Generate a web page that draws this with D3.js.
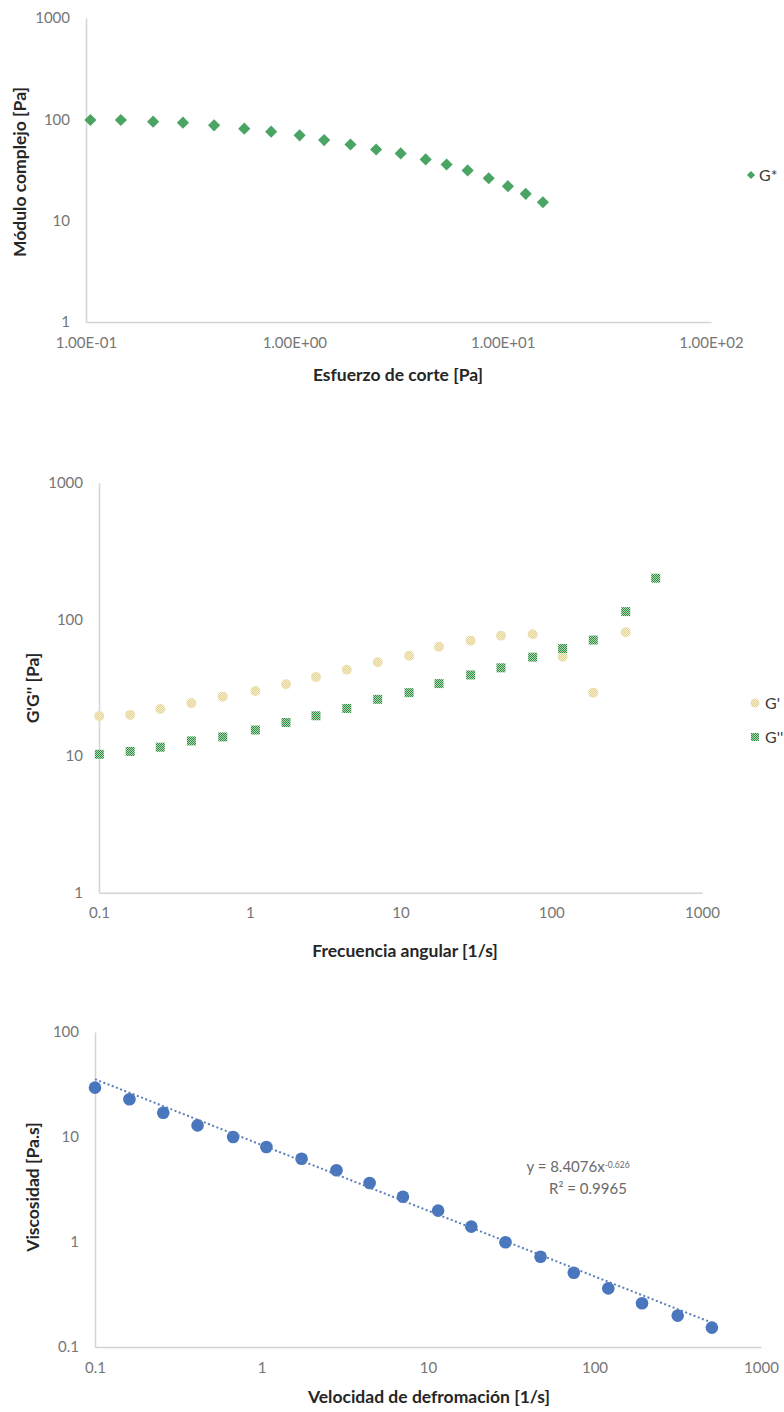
<!DOCTYPE html>
<html>
<head>
<meta charset="utf-8">
<script src="https://cdn.jsdelivr.net/npm/d3@7"></script>
<style>
  html, body { margin: 0; padding: 0; background: #fff; }
  svg { display: block; }
  .tick text { font-family: Lato, "Open Sans", sans-serif; font-size: 15px; fill: #767676; }
  .axis-title { font-family: Lato, "Open Sans", sans-serif; font-size: 17.5px; font-weight: bold; fill: #262626; }
  .legend-text { font-family: Lato, "Open Sans", sans-serif; font-size: 16px; fill: #3a3a3a; }
  .eq-text { font-family: Lato, "Open Sans", sans-serif; font-size: 15px; fill: #6a6a6a; }
</style>
</head>
<body>
<svg id="chart" width="784" height="1412"></svg>
<script>
// ---- Barrido de esfuerzo: módulo complejo ----
const stressPa = [0.105, 0.147, 0.210, 0.292, 0.412, 0.575, 0.774, 1.06, 1.39, 1.86, 2.47, 3.24, 4.27, 5.38, 6.79, 8.57, 10.6, 12.9, 15.6];
const complexModulus = [98.5, 98.5, 94.9, 92.7, 87.2, 80.9, 75.5, 69.5, 62.4, 56.5, 50.4, 46.1, 40.2, 35.8, 31.3, 26.2, 21.9, 18.4, 15.2];
const stressTicks = [0.1, 1, 10, 100];
const stressTickLabels = ["1.00E-01", "1.00E+00", "1.00E+01", "1.00E+02"];
const modulusTicks = [1, 10, 100, 1000];

// ---- Barrido de frecuencia: G' y G'' ----
const angularFreq = [0.1005, 0.161, 0.255, 0.410, 0.662, 1.09, 1.74, 2.75, 4.40, 7.06, 11.4, 18.0, 29.2, 46.4, 75.3, 119, 190, 312, 493];
const storageModulus = [19.6, 20.0, 22.1, 24.4, 27.2, 29.9, 33.5, 37.9, 42.8, 48.5, 54.2, 63.1, 69.8, 75.9, 77.8, 53.3, 29.1, 80.4, null];
const lossModulus = [10.3, 10.8, 11.6, 12.9, 13.8, 15.5, 17.6, 19.7, 22.3, 26.0, 29.1, 33.9, 39.2, 44.2, 52.9, 61.2, 70.6, 114, 200];
const freqTicks = [0.1, 1, 10, 100, 1000];
const freqTickLabels = ["0.1", "1", "10", "100", "1000"];
const gTicks = [1, 10, 100, 1000];

// ---- Curva de flujo: viscosidad ----
const shearRate = [0.1, 0.161, 0.257, 0.413, 0.676, 1.07, 1.74, 2.82, 4.46, 7.07, 11.5, 18.2, 29.2, 47.4, 75.1, 121, 193, 316, 507];
const viscosity = [29.5, 22.9, 17.0, 12.9, 10.0, 8.03, 6.21, 4.82, 3.65, 2.70, 1.99, 1.40, 0.993, 0.724, 0.510, 0.362, 0.261, 0.199, 0.153];
const rateTicks = [0.1, 1, 10, 100, 1000];
const rateTickLabels = ["0.1", "1", "10", "100", "1000"];
const viscTicks = [0.1, 1, 10, 100];
const viscTickLabels = ["0.1", "1", "10", "100"];
// Ajuste potencial y = a·x^b
const powerFit = [8.4076, -0.626];
const powerFitR2 = ["0.9965"];

const svg = d3.select("#chart");
const axisColor = "#d4d4d4";

// Patterns for the G' / G'' markers
const defs = svg.append("defs");
const pG1 = defs.append("pattern").attr("id", "patG1").attr("patternUnits", "userSpaceOnUse")
  .attr("width", 2).attr("height", 2);
pG1.append("rect").attr("width", 2).attr("height", 2).attr("fill", "#f6eecb");
pG1.append("rect").attr("width", 1).attr("height", 1).attr("fill", "#e3d397");
pG1.append("rect").attr("x", 1).attr("y", 1).attr("width", 1).attr("height", 1).attr("fill", "#e3d397");
const pG2 = defs.append("pattern").attr("id", "patG2").attr("patternUnits", "userSpaceOnUse")
  .attr("width", 2).attr("height", 2);
pG2.append("rect").attr("width", 2).attr("height", 2).attr("fill", "#b3dab6");
pG2.append("rect").attr("width", 1).attr("height", 1).attr("fill", "#2f8a41");
pG2.append("rect").attr("x", 1).attr("y", 1).attr("width", 1).attr("height", 1).attr("fill", "#2f8a41");

function drawAxes(g, x, y, xt, xl, yt, yl) {
  const xa = g.append("g").attr("transform", `translate(0,${y.range()[0]})`)
    .call(d3.axisBottom(x).tickValues(xt).tickFormat((d, i) => xl[i]).tickSize(0).tickPadding(15));
  const ya = g.append("g").attr("transform", `translate(${x.range()[0]},0)`)
    .call(d3.axisLeft(y).tickValues(yt).tickFormat((d, i) => yl[i]).tickSize(0).tickPadding(16));
  [xa, ya].forEach(a => a.select(".domain").attr("stroke", axisColor).attr("stroke-width", 1.5));
}

function yTitle(g, text, x, y) {
  g.append("text").attr("class", "axis-title")
    .attr("transform", `translate(${x},${y}) rotate(-90)`)
    .attr("text-anchor", "middle").attr("dy", "0.35em").text(text);
}
function xTitle(g, text, x, y) {
  g.append("text").attr("class", "axis-title")
    .attr("x", x).attr("y", y).attr("text-anchor", "middle").attr("dy", "0.35em").text(text);
}

// ================= Gráfico 1 =================
{
  const g = svg.append("g");
  const x = d3.scaleLog().domain([0.1, 100]).range([86, 711]);
  const y = d3.scaleLog().domain([1, 1000]).range([322, 18]);
  drawAxes(g, x, y, stressTicks, stressTickLabels, modulusTicks, modulusTicks.map(String));
  const diamond = d3.symbol().type(d3.symbolSquare).size(74);
  g.append("g").selectAll("path").data(stressPa.map((d, i) => [d, complexModulus[i]]))
    .join("path")
    .attr("d", diamond)
    .attr("transform", d => `translate(${x(d[0])},${y(d[1])}) rotate(45)`)
    .attr("fill", "#4aa564");
  xTitle(g, "Esfuerzo de corte [Pa]", 398, 375);
  yTitle(g, "Módulo complejo [Pa]", 20, 172);
  // leyenda
  g.append("path").attr("d", d3.symbol().type(d3.symbolSquare).size(34))
    .attr("transform", "translate(751,175) rotate(45)").attr("fill", "#4aa564");
  g.append("text").attr("class", "legend-text").attr("x", 759).attr("y", 175).attr("dy", "0.35em").text("G*");
}

// ================= Gráfico 2 =================
{
  const g = svg.append("g");
  const x = d3.scaleLog().domain([0.1, 1000]).range([99, 702]);
  const y = d3.scaleLog().domain([1, 1000]).range([892.7, 482.7]);
  drawAxes(g, x, y, freqTicks, freqTickLabels, gTicks, gTicks.map(String));
  const g1 = angularFreq.map((d, i) => [d, storageModulus[i]]).filter(d => d[1] != null);
  g.append("g").selectAll("circle").data(g1).join("circle")
    .attr("cx", d => x(d[0])).attr("cy", d => y(d[1])).attr("r", 5)
    .attr("fill", "url(#patG1)");
  const g2 = angularFreq.map((d, i) => [d, lossModulus[i]]);
  g.append("g").selectAll("rect").data(g2).join("rect")
    .attr("x", d => x(d[0]) - 4.5).attr("y", d => y(d[1]) - 4.5)
    .attr("width", 9).attr("height", 9)
    .attr("fill", "url(#patG2)");
  xTitle(g, "Frecuencia angular [1/s]", 405, 951);
  yTitle(g, "G'G'' [Pa]", 33, 688);
  // leyenda
  g.append("circle").attr("cx", 755).attr("cy", 703).attr("r", 4.5).attr("fill", "url(#patG1)");
  g.append("text").attr("class", "legend-text").attr("x", 765).attr("y", 703).attr("dy", "0.35em").text("G'");
  g.append("rect").attr("x", 751).attr("y", 733).attr("width", 8).attr("height", 8).attr("fill", "url(#patG2)");
  g.append("text").attr("class", "legend-text").attr("x", 765).attr("y", 737).attr("dy", "0.35em").text("G''");
}

// ================= Gráfico 3 =================
{
  const g = svg.append("g");
  const x = d3.scaleLog().domain([0.1, 1000]).range([95, 761]);
  const y = d3.scaleLog().domain([0.1, 100]).range([1347, 1032]);
  drawAxes(g, x, y, rateTicks, rateTickLabels, viscTicks, viscTickLabels);
  // línea de tendencia potencial
  const xs = d3.extent(shearRate);
  const fitPts = d3.range(0, 41).map(k => {
    const xv = Math.pow(10, Math.log10(xs[0]) + (Math.log10(xs[1]) - Math.log10(xs[0])) * k / 40);
    return [xv, powerFit[0] * Math.pow(xv, powerFit[1])];
  });
  g.append("g").selectAll("circle").data(shearRate.map((d, i) => [d, viscosity[i]])).join("circle")
    .attr("cx", d => x(d[0])).attr("cy", d => y(d[1])).attr("r", 6.3)
    .attr("fill", "#4a76bd");
  g.append("path").datum(fitPts)
    .attr("d", d3.line().x(d => x(d[0])).y(d => y(d[1])))
    .attr("fill", "none").attr("stroke", "#5b7fb8").attr("stroke-width", 2)
    .attr("stroke-dasharray", "2,2.5");
  // ecuación
  const eq = g.append("text").attr("class", "eq-text").attr("x", 578).attr("y", 1167).attr("dy", "0.35em")
    .attr("text-anchor", "middle");
  eq.append("tspan").text(`y = ${powerFit[0]}x`);
  eq.append("tspan").attr("dy", "-0.55em").attr("font-size", "8.5px").text(`${powerFit[1]}`);
  g.append("text").attr("class", "eq-text").attr("x", 588).attr("y", 1189).attr("dy", "0.35em")
    .attr("text-anchor", "middle").text(`R² = ${powerFitR2[0]}`);
  xTitle(g, "Velocidad de defromación [1/s]", 429, 1397);
  yTitle(g, "Viscosidad [Pa.s]", 33, 1187);
}
</script>
</body>
</html>
